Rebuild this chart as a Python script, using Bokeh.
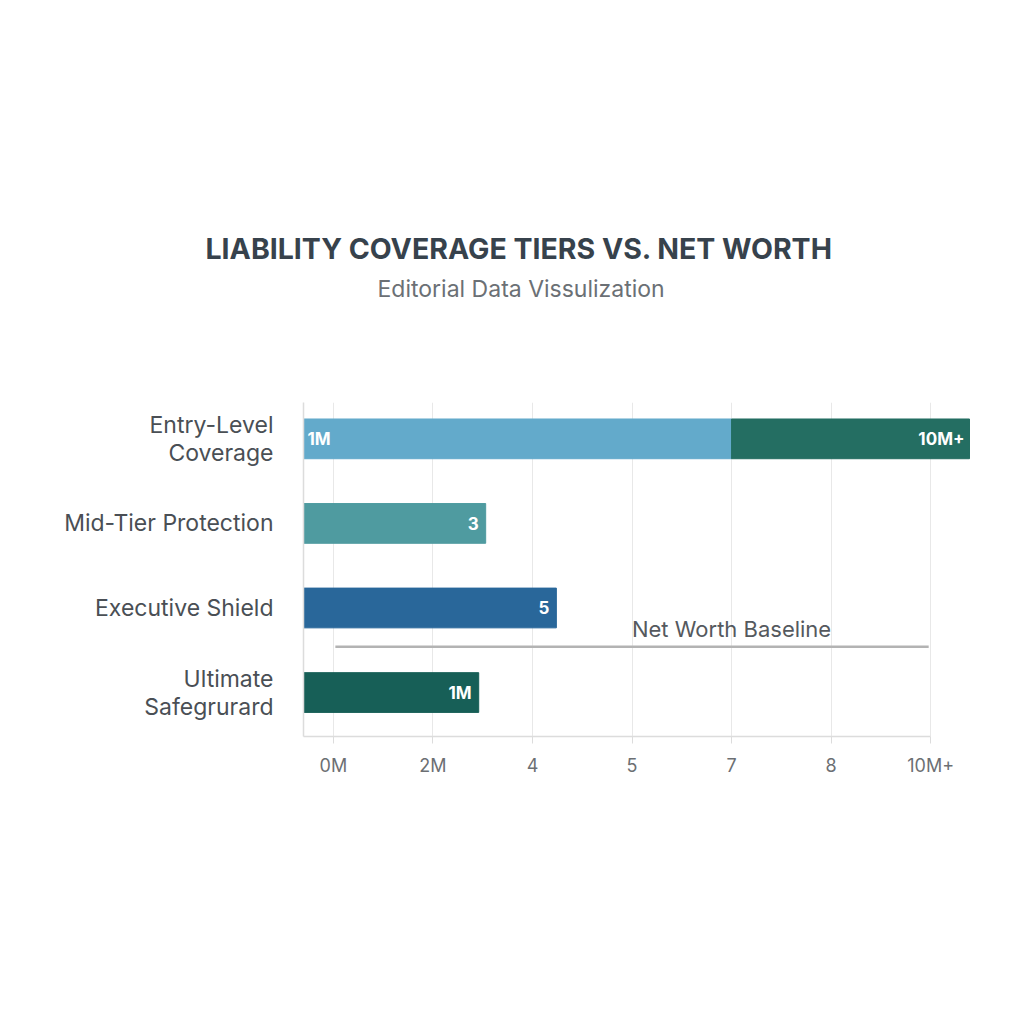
from bokeh.plotting import figure
from bokeh.models import ColumnDataSource, FixedTicker, Range1d, Title
from bokeh.core.properties import value
from bokeh.embed import file_html
from bokeh.resources import INLINE

FONT = "Inter"

# Tiers, top to bottom, and their positions on the category axis
tiers = ["Entry-Level\nCoverage", "Mid-Tier Protection", "Executive Shield", "Ultimate\nSafegrurard"]
tier_pos = [3, 2, 1, 0]

# Coverage bars (in axis tick units) with their stated values
coverage_start = [-0.3, -0.3, -0.3, -0.3]
coverage_end = [4.0, 1.53, 2.24, 1.46]
coverage_colors = ["#63aacb", "#4f9ba0", "#29679a", "#175f57"]
coverage_labels = ["1M", "3", "5", "1M"]

# Excess layer on the entry tier
excess_start = [4.0]
excess_end = [6.39]
excess_tier = [3]
excess_labels = ["10M+"]
excess_color = "#246e62"

# Horizontal axis ticks
tick_pos = [0, 1, 2, 3, 4, 5, 6]
tick_labels = ["0M", "2M", "4", "5", "7", "8", "10M+"]

# Net worth baseline
baseline_x = [0.02, 5.98]
baseline_y = [0.54, 0.54]
baseline_label_x = [4.0]
baseline_label_y = [0.756]

p = figure(width=1024, height=1024, output_backend="svg", toolbar_location=None,
           x_range=Range1d(-0.3, 6.4), y_range=Range1d(-0.52, 3.43),
           min_border_left=303, min_border_right=54, min_border_top=402, min_border_bottom=288)
p.outline_line_color = None
p.background_fill_color = "white"
p.border_fill_color = "white"

# Grid
p.xgrid.ticker = FixedTicker(ticks=tick_pos)
p.xgrid.grid_line_color = "#e8e8e8"
p.xgrid.grid_line_width = 1
p.ygrid.grid_line_color = None

# Bars
cov = ColumnDataSource(dict(y=tier_pos, left=coverage_start, right=coverage_end,
                            color=coverage_colors, label=coverage_labels))
p.hbar(y="y", left="left", right="right", height=0.47, color="color", source=cov)
exc = ColumnDataSource(dict(y=excess_tier, left=excess_start, right=excess_end, label=excess_labels))
p.hbar(y="y", left="left", right="right", height=0.47, color=excess_color, source=exc)

# Value labels inside bars
lbl = dict(text_baseline="middle", text_color="white", text_font=value(FONT),
           text_font_size="17px", text_font_style="bold")
first = ColumnDataSource(dict(x=coverage_start[:1], y=tier_pos[:1], t=coverage_labels[:1]))
p.text(x="x", y="y", text="t", source=first, text_align="left", x_offset=4, **lbl)
rest = ColumnDataSource(dict(x=coverage_end[1:], y=tier_pos[1:], t=coverage_labels[1:]))
p.text(x="x", y="y", text="t", source=rest, text_align="right", x_offset=-7, **lbl)
p.text(x="right", y="y", text="label", source=exc, text_align="right", x_offset=-5, **lbl)

# Baseline
p.line(baseline_x, baseline_y, line_color="#b3b3b3", line_width=2.5)
p.text(x=baseline_label_x, y=baseline_label_y, text=["Net Worth Baseline"], text_align="center",
       text_baseline="middle", text_color="#55595e", text_font=value(FONT), text_font_size="22px")

# Axes
xa = p.xaxis[0]
xa.ticker = FixedTicker(ticks=tick_pos)
xa.major_label_overrides = dict(zip(tick_pos, tick_labels))
xa.bounds = (-0.3, 6)
xa.axis_line_color = "#dcdcdc"
xa.axis_line_width = 1.5
xa.major_tick_line_color = "#dcdcdc"
xa.major_tick_out = 7
xa.major_tick_in = 0
xa.minor_tick_line_color = None
xa.major_label_text_font = FONT
xa.major_label_text_font_size = "18px"
xa.major_label_text_color = "#6c6f73"
xa.major_label_standoff = 11

ya = p.yaxis[0]
ya.ticker = FixedTicker(ticks=tier_pos)
ya.major_label_overrides = dict(zip(tier_pos, tiers))
ya.axis_line_color = "#dcdcdc"
ya.axis_line_width = 1.5
ya.major_tick_line_color = None
ya.minor_tick_line_color = None
ya.major_label_text_font = FONT
ya.major_label_text_font_size = "23px"
ya.major_label_text_line_height = 1.0
ya.major_label_text_color = "#4a4f55"
ya.major_label_standoff = 24

# Headings
sub = Title(text="Editorial Data Vissulization", align="left", text_font=FONT,
            text_font_size="23px", text_font_style="normal", text_color="#6b7075", offset=74)
main = Title(text="LIABILITY COVERAGE TIERS VS. NET WORTH", align="left", text_font=FONT,
             text_font_size="28.5px", text_font_style="bold", text_color="#37424c", offset=-98)
sub.standoff = 200
main.standoff = -186
p.add_layout(sub, "above")
p.add_layout(main, "above")

open("out.html", "w").write(file_html(p, INLINE))
